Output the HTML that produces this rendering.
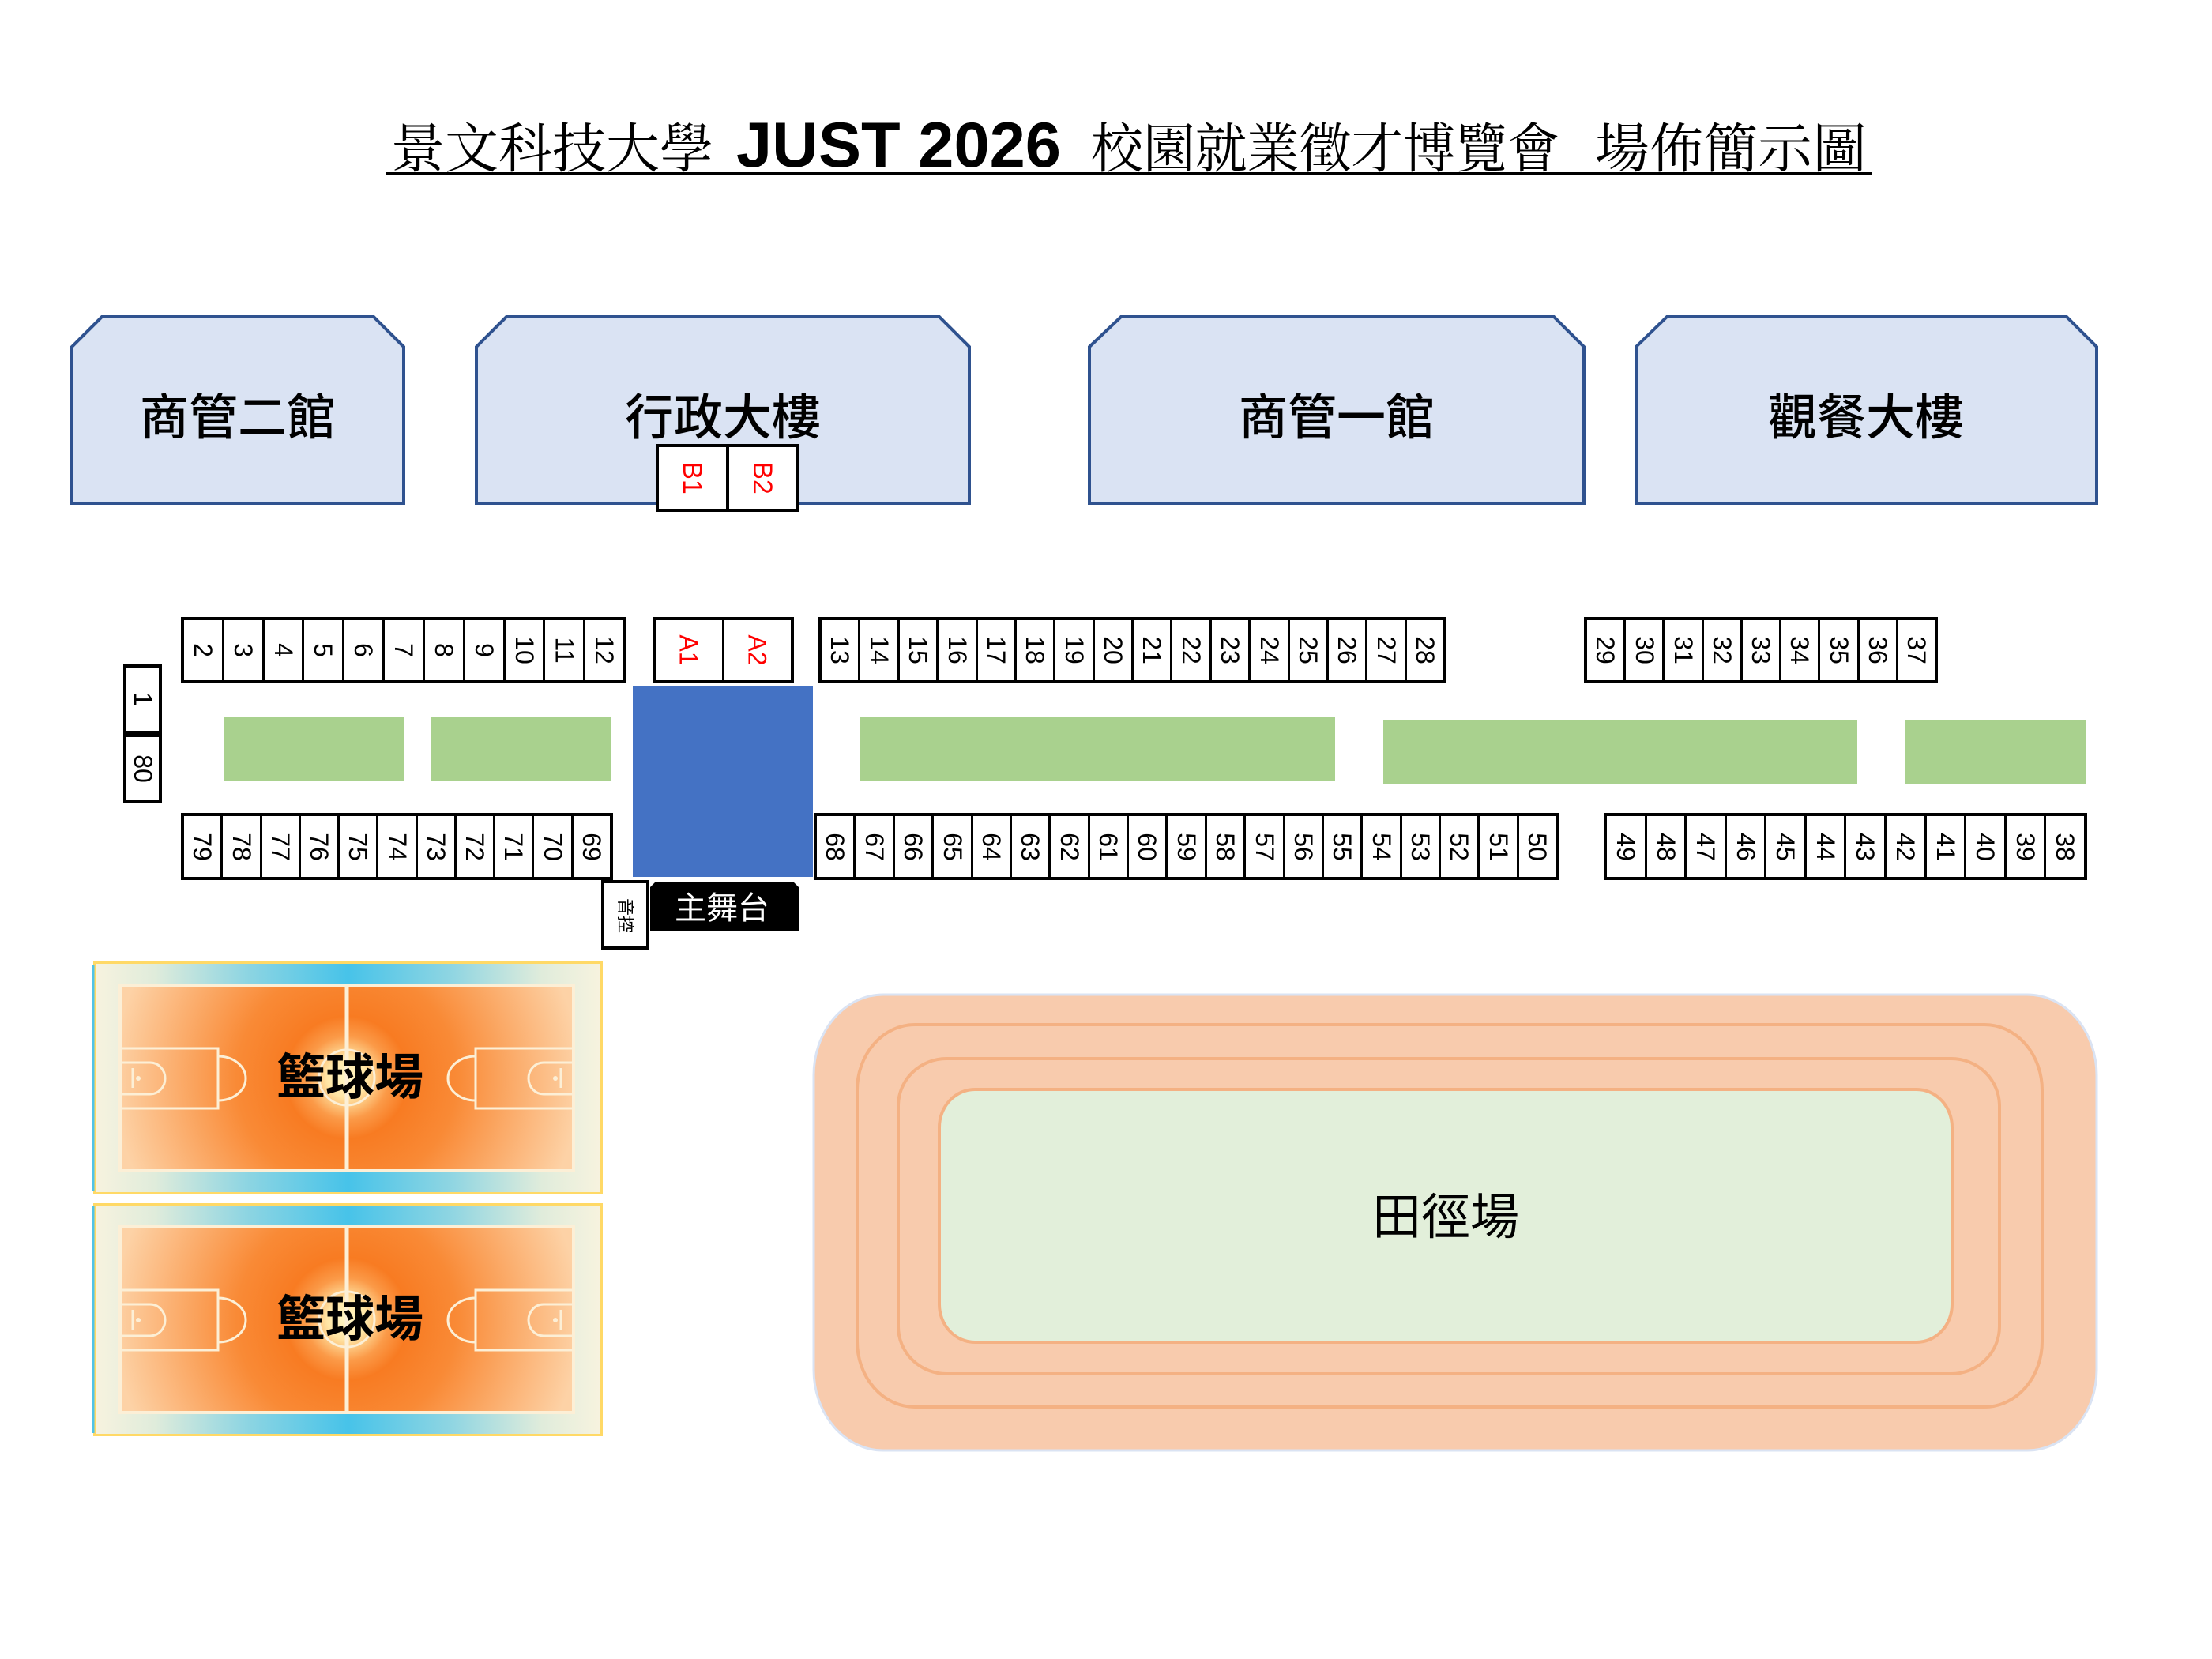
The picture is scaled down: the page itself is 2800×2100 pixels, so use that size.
<!DOCTYPE html>
<html>
<head>
<meta charset="utf-8">
<style>
html,body{margin:0;padding:0;background:#fff;}
body{width:2800px;height:2100px;position:relative;overflow:hidden;}
svg.bg{position:absolute;left:0;top:0;}
.r{position:absolute;display:flex;border:4px solid #000;box-sizing:border-box;background:#fff;}
.r>div{flex:1 1 0;display:flex;align-items:center;justify-content:center;border-left:3px solid #000;min-width:0;}
.r>div:first-child{border-left:0;}
.r span{display:block;transform:rotate(90deg);font:32px/32px "Liberation Sans",sans-serif;white-space:nowrap;color:#000;}
.r.red span{color:#f00;}
.r.bb>div{border-left-width:4px;}
.r.bb span{font-size:34px;line-height:34px;}
</style>
</head>
<body>
<svg class="bg" width="2800" height="2100" viewBox="0 0 2800 2100" xmlns="http://www.w3.org/2000/svg" font-family="'Liberation Sans','Noto Sans CJK TC',sans-serif">
<defs>
  <linearGradient id="band" gradientUnits="userSpaceOnUse" x1="0" y1="0" x2="645" y2="0">
    <stop offset="0" stop-color="#F8F3DF"/>
    <stop offset="0.12" stop-color="#E0ECDB"/>
    <stop offset="0.3" stop-color="#8ED5E2"/>
    <stop offset="0.5" stop-color="#47C3E9"/>
    <stop offset="0.7" stop-color="#8ED5E2"/>
    <stop offset="0.88" stop-color="#E0ECDB"/>
    <stop offset="1" stop-color="#F8F3DF"/>
  </linearGradient>
  <radialGradient id="court" gradientUnits="userSpaceOnUse" cx="321" cy="147" r="310">
    <stop offset="0" stop-color="#FFF7C8"/>
    <stop offset="0.08" stop-color="#FFE6A6"/>
    <stop offset="0.17" stop-color="#FB9A48"/>
    <stop offset="0.25" stop-color="#F87B22"/>
    <stop offset="0.45" stop-color="#F98A36"/>
    <stop offset="0.7" stop-color="#FBAE6E"/>
    <stop offset="0.95" stop-color="#FDD2A6"/>
  </radialGradient>
  <g id="halfcourt" fill="none" stroke="#FCEFD6" stroke-width="3">
    <rect x="34" y="110" width="124" height="76"/>
    <path d="M158,120 A35,28 0 0 1 158,176"/>
    <path d="M35,128 H72 A19,20 0 0 1 72,168 H35"/>
    <line x1="50" y1="135" x2="50" y2="160"/>
    <circle cx="57" cy="148" r="3" fill="#FCEFD6" stroke="none"/>
  </g>
  <g id="court1">
    <rect x="1.5" y="1.5" width="642" height="292" fill="url(#band)" stroke="#FFD966" stroke-width="3"/>
    <rect x="-1" y="4" width="2.5" height="287" fill="#4FC3E8"/>
    <rect x="34" y="30" width="574" height="235" fill="url(#court)" stroke="#FCEFD6" stroke-width="4"/>
    <line x1="321" y1="30" x2="321" y2="265" stroke="#FCEFD6" stroke-width="5"/>
    <circle cx="321" cy="147" r="35" fill="none" stroke="#FCEFD6" stroke-width="3"/>
    <use href="#halfcourt"/>
    <g transform="translate(642,0) scale(-1,1)"><use href="#halfcourt"/></g>
    <text x="325" y="168" text-anchor="middle" font-size="62" font-weight="bold" fill="#000">籃球場</text>
  </g>
</defs>

<!-- Title -->
<g fill="#000">
  <text x="495" y="212" font-family="'Liberation Serif','Noto Serif CJK SC',serif" font-size="68" textLength="408" lengthAdjust="spacingAndGlyphs">景文科技大學</text>
  <text x="932" y="211" font-family="'Liberation Sans',sans-serif" font-weight="bold" font-size="81" textLength="411" lengthAdjust="spacingAndGlyphs">JUST 2026</text>
  <text x="1381" y="212" font-family="'Liberation Serif','Noto Serif CJK SC',serif" font-size="68" textLength="593" lengthAdjust="spacingAndGlyphs">校園就業徵才博覽會</text>
  <text x="2019" y="212" font-family="'Liberation Serif','Noto Serif CJK SC',serif" font-size="68" textLength="344" lengthAdjust="spacingAndGlyphs">場佈簡示圖</text>
  <rect x="488" y="218" width="1882" height="4"/>
</g>

<!-- Buildings -->
<g fill="#DAE3F3" stroke="#2F528F" stroke-width="4" stroke-linejoin="miter">
  <polygon points="91,439 129,401 473,401 511,439 511,637 91,637"/>
  <polygon points="603,439 641,401 1189,401 1227,439 1227,637 603,637"/>
  <polygon points="1379,439 1419,401 1967,401 2005,439 2005,637 1379,637"/>
  <polygon points="2071,439 2110,401 2616,401 2654,439 2654,637 2071,637"/>
</g>
<g fill="#000" font-size="62" font-weight="500" text-anchor="middle">
  <text x="301" y="550">商管二館</text>
  <text x="915" y="550">行政大樓</text>
  <text x="1692" y="550">商管一館</text>
  <text x="2362" y="550">觀餐大樓</text>
</g>

<!-- Green areas -->
<g fill="#A9D18E">
  <rect x="284" y="907" width="228" height="81"/>
  <rect x="545" y="907" width="228" height="81"/>
  <rect x="1089" y="908" width="601" height="81"/>
  <rect x="1751" y="911" width="600" height="81"/>
  <rect x="2411" y="912" width="229" height="81"/>
</g>

<!-- Stage -->
<rect x="801" y="868" width="228" height="242" fill="#4472C4"/>
<polygon points="830,1116 1004,1116 1011,1123 1011,1179 823,1179 823,1123" fill="#000"/>
<text x="914" y="1163" text-anchor="middle" font-size="40" fill="#fff">主舞台</text>
<rect x="763" y="1116" width="57" height="84" fill="#fff" stroke="#000" stroke-width="4"/>
<text transform="translate(792,1159) rotate(90)" x="0" y="8" text-anchor="middle" font-size="22" fill="#000">音控</text>

<!-- Basketball courts -->
<use href="#court1" transform="translate(118,1217)"/>
<use href="#court1" transform="translate(118,1523)"/>

<!-- Track -->
<rect x="1030" y="1259" width="1624" height="577" rx="88" ry="102" fill="#F8CBAD" stroke="#DAE3F3" stroke-width="3"/>
<rect x="1085" y="1297" width="1500" height="484" rx="73" ry="83" fill="none" stroke="#F4B183" stroke-width="4"/>
<rect x="1137" y="1340" width="1394" height="399" rx="61" ry="60" fill="none" stroke="#F4B183" stroke-width="4"/>
<rect x="1189" y="1379" width="1282" height="320" rx="45" ry="48" fill="#E2EFDA" stroke="#F4B183" stroke-width="4"/>
<text x="1830" y="1562" text-anchor="middle" font-size="62" fill="#000">田徑場</text>
</svg>

<!-- B1 B2 -->
<div class="r red bb" style="left:830px;top:562px;width:181px;height:86px;"><div><span>B1</span></div><div><span>B2</span></div></div>

<!-- Top rows -->
<div class="r" style="left:229px;top:781px;width:564px;height:84px;">
<div><span>2</span></div><div><span>3</span></div><div><span>4</span></div><div><span>5</span></div><div><span>6</span></div><div><span>7</span></div><div><span>8</span></div><div><span>9</span></div><div><span>10</span></div><div><span>11</span></div><div><span>12</span></div>
</div>
<div class="r red" style="left:826px;top:781px;width:179px;height:84px;"><div><span>A1</span></div><div><span>A2</span></div></div>
<div class="r" style="left:1036px;top:781px;width:795px;height:84px;">
<div><span>13</span></div><div><span>14</span></div><div><span>15</span></div><div><span>16</span></div><div><span>17</span></div><div><span>18</span></div><div><span>19</span></div><div><span>20</span></div><div><span>21</span></div><div><span>22</span></div><div><span>23</span></div><div><span>24</span></div><div><span>25</span></div><div><span>26</span></div><div><span>27</span></div><div><span>28</span></div>
</div>
<div class="r" style="left:2005px;top:781px;width:448px;height:84px;">
<div><span>29</span></div><div><span>30</span></div><div><span>31</span></div><div><span>32</span></div><div><span>33</span></div><div><span>34</span></div><div><span>35</span></div><div><span>36</span></div><div><span>37</span></div>
</div>

<!-- 1 / 80 -->
<div class="r" style="left:156px;top:841px;width:49px;height:88px;"><div><span>1</span></div></div>
<div class="r" style="left:156px;top:929px;width:49px;height:88px;"><div><span>80</span></div></div>

<!-- Bottom rows -->
<div class="r" style="left:229px;top:1029px;width:547px;height:85px;">
<div><span>79</span></div><div><span>78</span></div><div><span>77</span></div><div><span>76</span></div><div><span>75</span></div><div><span>74</span></div><div><span>73</span></div><div><span>72</span></div><div><span>71</span></div><div><span>70</span></div><div><span>69</span></div>
</div>
<div class="r" style="left:1030px;top:1029px;width:943px;height:85px;">
<div><span>68</span></div><div><span>67</span></div><div><span>66</span></div><div><span>65</span></div><div><span>64</span></div><div><span>63</span></div><div><span>62</span></div><div><span>61</span></div><div><span>60</span></div><div><span>59</span></div><div><span>58</span></div><div><span>57</span></div><div><span>56</span></div><div><span>55</span></div><div><span>54</span></div><div><span>53</span></div><div><span>52</span></div><div><span>51</span></div><div><span>50</span></div>
</div>
<div class="r" style="left:2030px;top:1029px;width:612px;height:85px;">
<div><span>49</span></div><div><span>48</span></div><div><span>47</span></div><div><span>46</span></div><div><span>45</span></div><div><span>44</span></div><div><span>43</span></div><div><span>42</span></div><div><span>41</span></div><div><span>40</span></div><div><span>39</span></div><div><span>38</span></div>
</div>
</body>
</html>
